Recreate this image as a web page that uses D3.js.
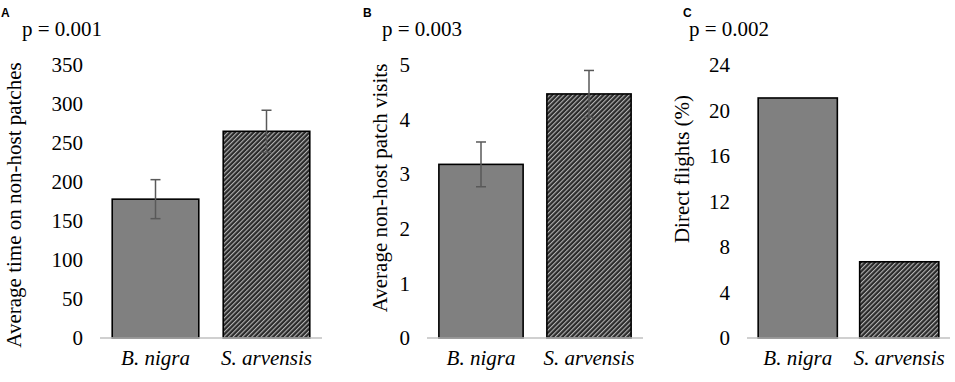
<!DOCTYPE html>
<html>
<head>
<meta charset="utf-8">
<script src="https://cdn.jsdelivr.net/npm/d3@7"></script>
<style>
  body { margin: 0; background: #fff; }
  svg { display: block; }
  .serif text, text.serif { font-family: "Liberation Serif", "Times New Roman", serif !important; }
</style>
</head>
<body>
<svg id="chart"></svg>
<script>
const width = 955;
const height = 382;

const categories = ['B. nigra', 'S. arvensis'];

// panel A: average time on non-host patches
const timeValues = [178, 265];
const timeErrors = [25, 27];
const timeTicks = [0, 50, 100, 150, 200, 250, 300, 350];

// panel B: average non-host patch visits
const visitValues = [3.18, 4.47];
const visitErrors = [0.41, 0.43];
const visitTicks = [0, 1, 2, 3, 4, 5];

// panel C: direct flights (%)
const flightValues = [21.1, 6.7];
const flightTicks = [0, 4, 8, 12, 16, 20, 24];

const pLabels = ['p = 0.001', 'p = 0.003', 'p = 0.002'];
const panelLetters = ['A', 'B', 'C'];
const yTitles = ['Average time on non-host patches', 'Average non-host patch visits', 'Direct flights (%)'];

const panels = [
    { values: timeValues, errors: timeErrors, ticks: timeTicks, max: 350,
      x0: 100, x1: 322, titleX: 14, titleY: 205, letterX: 1, pX: 22 },
    { values: visitValues, errors: visitErrors, ticks: visitTicks, max: 5,
      x0: 427, x1: 643, titleX: 380, titleY: 188, letterX: 363, pX: 382 },
    { values: flightValues, errors: null, ticks: flightTicks, max: 24,
      x0: 747, x1: 950, titleX: 682, titleY: 169, letterX: 683, pX: 689 }
];

const serif = '"Liberation Serif", "Times New Roman", serif';
const fills = ['#808080', 'url(#hatch)'];

const svg = d3.select('#chart')
    .attr('width', width)
    .attr('height', height);

// diagonal hatch for the second species
const pat = svg.append('defs').append('pattern')
    .attr('id', 'hatch')
    .attr('patternUnits', 'userSpaceOnUse')
    .attr('width', 3.3)
    .attr('height', 3.3)
    .attr('patternTransform', 'rotate(45)');
pat.append('rect').attr('width', 3.3).attr('height', 3.3).attr('fill', '#2a2a2a');
pat.append('rect').attr('x', 0).attr('width', 1.1).attr('height', 3.3).attr('fill', '#b4b4b4');

const y0 = 338, y1 = 65;

panels.forEach((p, i) => {
    const g = svg.append('g');

    const x = d3.scaleBand()
        .domain(categories)
        .range([p.x0, p.x1])
        .paddingInner(0.22)
        .paddingOuter(0.11);

    const y = d3.scaleLinear()
        .domain([0, p.max])
        .range([y0, y1]);

    // tick labels, no axis line
    const yAxis = g.append('g')
        .attr('class', 'serif')
        .attr('transform', `translate(${p.x0},0)`)
        .call(d3.axisLeft(y).tickValues(p.ticks).tickFormat(d3.format('d')).tickSize(0).tickPadding(17));
    yAxis.select('.domain').remove();
    yAxis.selectAll('text')
        .style('font-family', serif)
        .style('font-size', '21px')
        .attr('fill', '#000');

    g.append('g')
        .selectAll('rect')
        .data(p.values)
        .join('rect')
        .attr('x', (d, j) => x(categories[j]))
        .attr('y', d => y(d))
        .attr('width', x.bandwidth())
        .attr('height', d => y(0) - y(d))
        .attr('fill', (d, j) => fills[j])
        .attr('stroke', '#000')
        .attr('stroke-width', 1.6);

    // baseline
    g.append('line')
        .attr('x1', p.x0).attr('x2', p.x1)
        .attr('y1', y(0)).attr('y2', y(0))
        .attr('stroke', '#c0c0c0')
        .attr('stroke-width', 1.5);

    if (p.errors) {
        const eb = g.append('g')
            .attr('stroke', '#595959')
            .attr('stroke-width', 1.5);
        p.values.forEach((v, j) => {
            const cx = x(categories[j]) + x.bandwidth() / 2;
            const lo = y(v - p.errors[j]), hi = y(v + p.errors[j]);
            eb.append('line').attr('x1', cx).attr('x2', cx).attr('y1', lo).attr('y2', hi);
            eb.append('line').attr('x1', cx - 5).attr('x2', cx + 5).attr('y1', lo).attr('y2', lo);
            eb.append('line').attr('x1', cx - 5).attr('x2', cx + 5).attr('y1', hi).attr('y2', hi);
        });
    }

    // category labels
    g.append('g')
        .attr('class', 'serif')
        .attr('transform', `translate(0,${y0})`)
        .call(d3.axisBottom(x).tickSize(0).tickPadding(12))
        .call(a => a.select('.domain').remove())
        .selectAll('text')
        .style('font-family', serif)
        .style('font-size', '21px')
        .style('font-style', 'italic')
        .attr('fill', '#000');

    g.append('text')
        .attr('class', 'serif')
        .attr('transform', `translate(${p.titleX},${p.titleY}) rotate(-90)`)
        .attr('text-anchor', 'middle')
        .attr('dy', '0.35em')
        .style('font-size', '21px')
        .text(yTitles[i]);

    g.append('text')
        .attr('x', p.letterX)
        .attr('y', 17)
        .style('font-family', '"Liberation Sans", Arial, sans-serif')
        .style('font-weight', 'bold')
        .style('font-size', '12px')
        .text(panelLetters[i]);

    g.append('text')
        .attr('class', 'serif')
        .attr('x', p.pX)
        .attr('y', 36)
        .style('font-size', '21px')
        .text(pLabels[i]);
});
</script>
</body>
</html>
